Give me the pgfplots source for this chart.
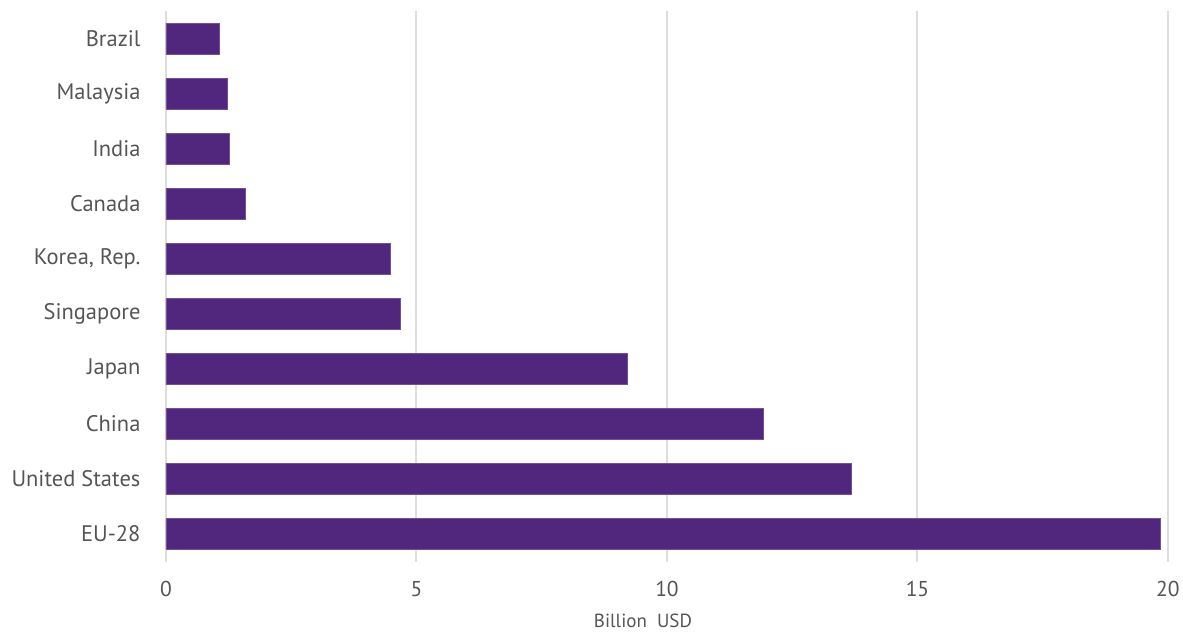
\documentclass[border=0pt]{standalone}
\usepackage{pgfplots}
\pgfplotsset{compat=1.18}
\usepackage{fontspec}
\setmainfont{PT Sans}
\definecolor{barc}{HTML}{51267D}
\definecolor{txt}{HTML}{555555}
\definecolor{gridc}{HTML}{DDDDDD}
\begin{document}
\begin{tikzpicture}[x=1pt,y=1pt]
\begin{axis}[
  at={(0,0)}, anchor=south west,
  scale only axis,
  width=1002pt, height=551pt,
  xmin=0, xmax=20,
  ymin=-0.51, ymax=9.51,
  y dir=reverse,
  xtick={0,5,10,15,20},
  ytick={0,...,9},
  yticklabels={Brazil,Malaysia,India,Canada,{Korea, Rep.},Singapore,Japan,China,United States,EU-28},
  axis line style={draw=none},
  major tick length=0pt,
  xmajorgrids,
  grid style={gridc, line width=2pt},
  yticklabel style={font=\fontsize{22.5}{26}\selectfont, text=txt, xshift=-22pt},
  xticklabel style={font=\fontsize{21.5}{26}\selectfont, text=txt, yshift=-16pt},
  /pgf/number format/assume math mode=true,
  xlabel={Billion\ \ USD},
  xlabel style={font=\fontsize{19}{22}\selectfont, text=txt, yshift=-10pt, xshift=-24pt},
  clip=false,
]
\addplot[xbar, bar width=31pt, fill=barc, draw=barc!80!white, line width=0.6pt] coordinates {
 (1.06,0) (1.22,1) (1.26,2) (1.58,3) (4.47,4) (4.68,5) (9.20,6) (11.92,7) (13.68,8) (19.85,9)
};
\end{axis}
\path[use as bounding box] (-166pt,-66pt) rectangle (1017pt,562pt);
\end{tikzpicture}
\end{document}
